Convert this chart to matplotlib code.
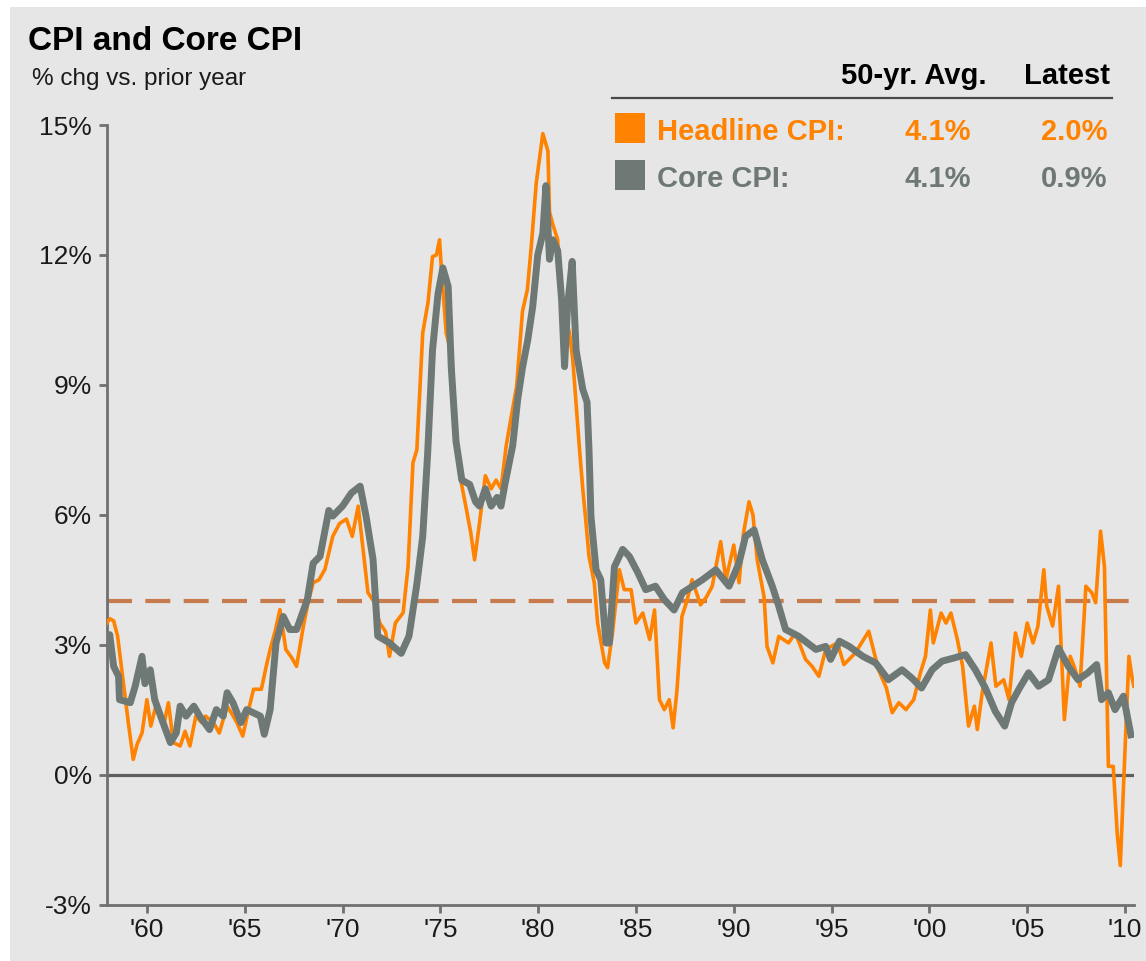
import matplotlib
matplotlib.use("Agg")
import matplotlib.pyplot as plt
from matplotlib.patches import Rectangle

plt.rcParams['font.family'] = ['Liberation Sans', 'DejaVu Sans']

# ---- data (year, % chg vs prior year) ----
headline_year = [
    1957.96, 1958.1, 1958.3, 1958.5, 1958.8, 1959.05, 1959.3, 1959.5, 1959.75, 1960.0,
    1960.2, 1960.5, 1960.85, 1961.1, 1961.35, 1961.7, 1961.95, 1962.2, 1962.5, 1962.8,
    1963.0, 1963.4, 1963.7, 1964.1, 1964.35, 1964.6, 1964.9, 1965.2, 1965.45, 1965.85,
    1966.1, 1966.3, 1966.55, 1966.8, 1967.1, 1967.4, 1967.65, 1968.0, 1968.25, 1968.5,
    1968.8, 1969.1, 1969.5, 1969.85, 1970.2, 1970.5, 1970.8, 1971.05, 1971.3, 1971.6,
    1971.9, 1972.2, 1972.4, 1972.7, 1973.1, 1973.35, 1973.6, 1973.8, 1974.1, 1974.37,
    1974.6, 1974.8, 1974.96, 1975.05, 1975.3, 1975.6, 1975.74, 1976.0, 1976.3, 1976.55,
    1976.75, 1977.0, 1977.3, 1977.6, 1977.85, 1978.1, 1978.37, 1978.6, 1978.9, 1979.2,
    1979.45, 1979.65, 1979.9, 1980.24, 1980.5, 1980.58, 1980.75, 1981.0, 1981.2, 1981.4,
    1981.6, 1981.77, 1982.1, 1982.28, 1982.45, 1982.6, 1982.87, 1983.04, 1983.4, 1983.55,
    1983.8, 1984.15, 1984.4, 1984.75, 1985.0, 1985.35, 1985.7, 1985.95, 1986.2, 1986.45,
    1986.7, 1986.9, 1987.1, 1987.35, 1987.6, 1987.87, 1988.3, 1988.6, 1988.9, 1989.33,
    1989.6, 1990.0, 1990.27, 1990.5, 1990.78, 1990.98, 1991.2, 1991.55, 1991.7, 1992.0,
    1992.3, 1992.8, 1993.15, 1993.67, 1994.0, 1994.35, 1994.7, 1995.3, 1995.63, 1996.2,
    1996.9, 1997.4, 1997.8, 1998.1, 1998.44, 1998.8, 1999.2, 1999.54, 1999.8, 2000.05,
    2000.2, 2000.6, 2000.85, 2001.1, 2001.43, 2001.7, 2002.0, 2002.3, 2002.45, 2002.7,
    2003.15, 2003.4, 2003.8, 2004.07, 2004.4, 2004.7, 2005.0, 2005.3, 2005.55, 2005.85,
    2006.0, 2006.3, 2006.6, 2006.9, 2007.2, 2007.4, 2007.7, 2008.0, 2008.3, 2008.5,
    2008.75, 2008.95, 2009.15, 2009.4, 2009.6, 2009.76, 2009.93, 2010.2, 2010.35, 2010.45,
]
headline_val = [
    3.5, 3.6, 3.55, 3.2, 2.1, 1.2, 0.35, 0.7, 0.96, 1.73,
    1.12, 1.66, 1.12, 1.66, 0.74, 0.66, 1.0, 0.66, 1.35, 1.2,
    1.35, 1.2, 0.96, 1.58, 1.4, 1.2, 0.89, 1.5, 1.97, 1.97,
    2.5, 2.89, 3.3, 3.81, 2.89, 2.7, 2.5, 3.43, 4.0, 4.43,
    4.5, 4.74, 5.5, 5.8, 5.9, 5.5, 6.2, 5.2, 4.2, 4.0,
    3.5, 3.3, 2.73, 3.5, 3.74, 4.8, 7.2, 7.5, 10.2, 10.9,
    11.96, 12.0, 12.35, 11.7, 10.2, 9.65, 8.27, 6.9, 6.2, 5.6,
    4.96, 5.8, 6.9, 6.6, 6.8, 6.6, 7.6, 8.2, 8.96, 10.7,
    11.2, 12.2, 13.65, 14.8, 14.4, 13.0, 12.7, 12.35, 10.65, 10.6,
    10.2, 9.58, 7.6, 6.6, 5.8, 5.04, 4.43, 3.5, 2.58, 2.47,
    3.27, 4.73, 4.27, 4.27, 3.5, 3.73, 3.12, 3.8, 1.73, 1.5,
    1.73, 1.08, 1.96, 3.65, 4.0, 4.5, 3.92, 4.1, 4.35, 5.38,
    4.5, 5.3, 4.43, 5.58, 6.3, 6.0, 4.96, 4.1, 2.96, 2.58,
    3.19, 3.04, 3.27, 2.66, 2.5, 2.27, 2.89, 3.04, 2.54, 2.8,
    3.31, 2.42, 2.0, 1.43, 1.66, 1.5, 1.73, 2.35, 2.73, 3.8,
    3.04, 3.73, 3.5, 3.73, 3.12, 2.5, 1.12, 1.58, 1.04, 1.89,
    3.04, 2.04, 2.19, 1.73, 3.27, 2.73, 3.5, 3.04, 3.43, 4.73,
    3.89, 3.43, 4.35, 1.27, 2.73, 2.5, 2.04, 4.35, 4.2, 3.97,
    5.62, 4.8, 0.19, 0.19, -1.35, -2.1, -0.2, 2.73, 2.27, 2.04,
]

core_year = [
    1957.96, 1958.1, 1958.3, 1958.55, 1958.6, 1959.15, 1959.4, 1959.75, 1959.9, 1960.17,
    1960.4, 1960.7, 1961.2, 1961.5, 1961.7, 1962.0, 1962.4, 1962.7, 1963.2, 1963.55,
    1963.9, 1964.1, 1964.4, 1964.8, 1965.1, 1965.8, 1966.0, 1966.3, 1966.6, 1966.97,
    1967.3, 1967.65, 1968.2, 1968.5, 1968.85, 1969.3, 1969.5, 1970.0, 1970.45, 1970.9,
    1971.2, 1971.56, 1971.8, 1972.4, 1973.0, 1973.4, 1973.8, 1974.1, 1974.35, 1974.6,
    1974.88, 1975.13, 1975.4, 1975.56, 1975.8, 1976.1, 1976.5, 1976.8, 1977.0, 1977.3,
    1977.6, 1977.9, 1978.1, 1978.3, 1978.7, 1978.95, 1979.2, 1979.47, 1979.72, 1979.98,
    1980.24, 1980.4, 1980.58, 1980.75, 1981.0, 1981.2, 1981.35, 1981.5, 1981.74, 1981.94,
    1982.28, 1982.5, 1982.6, 1982.7, 1982.96, 1983.2, 1983.47, 1983.64, 1983.9, 1984.32,
    1984.66, 1985.1, 1985.5, 1986.0, 1986.45, 1986.95, 1987.38, 1987.9, 1988.4, 1989.08,
    1989.76, 1990.27, 1990.6, 1991.04, 1991.46, 1991.97, 1992.3, 1992.65, 1993.33, 1994.2,
    1994.7, 1994.95, 1995.4, 1995.9, 1996.6, 1997.25, 1997.9, 1998.6, 1999.1, 1999.6,
    2000.14, 2000.65, 2001.24, 2001.84, 2002.35, 2002.86, 2003.37, 2003.85, 2004.2, 2004.56,
    2005.07, 2005.58, 2006.09, 2006.6, 2007.1, 2007.6, 2008.1, 2008.55, 2008.8, 2009.15,
    2009.49, 2009.92, 2010.3,
]
core_val = [
    3.2, 3.23, 2.5, 2.27, 1.73, 1.66, 2.04, 2.73, 2.1, 2.42,
    1.73, 1.35, 0.74, 0.96, 1.58, 1.35, 1.58, 1.35, 1.04, 1.5,
    1.35, 1.89, 1.66, 1.2, 1.5, 1.35, 0.93, 1.5, 3.04, 3.65,
    3.35, 3.35, 4.04, 4.88, 5.04, 6.1, 5.97, 6.2, 6.5, 6.66,
    5.97, 4.97, 3.2, 3.04, 2.8, 3.2, 4.4, 5.5, 7.4, 9.8,
    11.1, 11.7, 11.27, 9.4, 7.7, 6.8, 6.7, 6.3, 6.2, 6.6,
    6.2, 6.4, 6.2, 6.7, 7.6, 8.65, 9.4, 10.04, 10.8, 12.0,
    12.5, 13.6, 11.9, 12.35, 12.1, 10.96, 9.42, 10.8, 11.85, 9.8,
    8.9, 8.6, 7.5, 5.96, 4.73, 4.5, 3.04, 3.04, 4.8, 5.2,
    5.04, 4.66, 4.27, 4.35, 4.04, 3.8, 4.2, 4.35, 4.5, 4.73,
    4.35, 4.89, 5.5, 5.65, 4.96, 4.35, 3.89, 3.35, 3.19, 2.89,
    2.96, 2.66, 3.08, 2.96, 2.73, 2.58, 2.19, 2.42, 2.23, 2.0,
    2.42, 2.62, 2.69, 2.77, 2.42, 2.0, 1.46, 1.12, 1.66, 1.96,
    2.35, 2.04, 2.19, 2.92, 2.5, 2.19, 2.35, 2.54, 1.73, 1.89,
    1.5, 1.81, 0.92,
]

avg_level = 4.0
xtick_years = [1960, 1965, 1970, 1975, 1980, 1985, 1990, 1995, 2000, 2005, 2010]
xtick_labels = ["'60", "'65", "'70", "'75", "'80", "'85", "'90", "'95", "'00", "'05", "'10"]
ytick_vals = [-3, 0, 3, 6, 9, 12, 15]

legend_rows = [("Headline CPI:", "4.1%", "2.0%"), ("Core CPI:", "4.1%", "0.9%")]

ORANGE = '#ff8200'
CORE = '#6e7874'
BG = '#e5e6e5'

W, H = 1146, 961
fig = plt.figure(figsize=(W / 100, H / 100), dpi=100, facecolor='white')
fig.patches.append(Rectangle((10 / W, 0), 1, 1 - 7 / H, transform=fig.transFigure,
                             facecolor=BG, edgecolor='none', zorder=-10))


def fx(px):
    return px / W


def fy(py):
    return 1 - py / H


ax = fig.add_axes([fx(107), fy(904.5), fx(1134) - fx(107), fy(125) - fy(904.5)])
ax.patch.set_visible(False)

ax.axhline(0, color='#5e5e5e', lw=2.3, zorder=1)
ax.axhline(avg_level, color='#c77a4c', lw=3, dashes=(6, 3.2), zorder=2)
ax.plot(headline_year, headline_val, color=ORANGE, lw=2.6, solid_joinstyle='round', zorder=3)
ax.plot(core_year, core_val, color=CORE, lw=5, solid_joinstyle='round', zorder=4)

ax.set_xlim(1957.96, 2010.46)
ax.set_ylim(-3, 15)
ax.set_xticks(xtick_years, xtick_labels)
ax.set_yticks(ytick_vals, [f"{v}%" for v in ytick_vals])

for side in ['top', 'right']:
    ax.spines[side].set_visible(False)
for side in ['left', 'bottom']:
    ax.spines[side].set_color('#707070')
    ax.spines[side].set_linewidth(2)
ax.tick_params(axis='both', colors='#707070', width=2, length=6, labelsize=19,
               labelcolor='#1a1a1a')
ax.tick_params(axis='y', pad=5)
ax.tick_params(axis='x', pad=4)

# title block
fig.text(fx(28), fy(50), "CPI and Core CPI", fontsize=24, fontweight='bold', color='black')
fig.text(fx(32), fy(85), "% chg vs. prior year", fontsize=17.5, color='#1a1a1a')

# legend table
fig.text(fx(987), fy(84), "50-yr. Avg.", fontsize=21, fontweight='bold', ha='right')
fig.text(fx(1110), fy(84), "Latest", fontsize=21, fontweight='bold', ha='right')
fig.add_artist(plt.Line2D([fx(612), fx(1112)], [fy(98), fy(98)], color='#4a4a4a', lw=1.6,
                          transform=fig.transFigure))
row_colors = [ORANGE, CORE]
row_base = [140, 187]
for (name, avg, latest), col, base in zip(legend_rows, row_colors, row_base):
    fig.patches.append(Rectangle((fx(614.5), fy(base + 3)), fx(645) - fx(614.5), fy(base - 27) - fy(base + 3),
                                 transform=fig.transFigure, facecolor=col, edgecolor='none'))
    fig.text(fx(657), fy(base), name, fontsize=21, fontweight='bold', color=col)
    fig.text(fx(971), fy(base), avg, fontsize=21, fontweight='bold', color=col, ha='right')
    fig.text(fx(1107), fy(base), latest, fontsize=21, fontweight='bold', color=col, ha='right')

fig.savefig('out.png', dpi=100, facecolor=fig.get_facecolor())
